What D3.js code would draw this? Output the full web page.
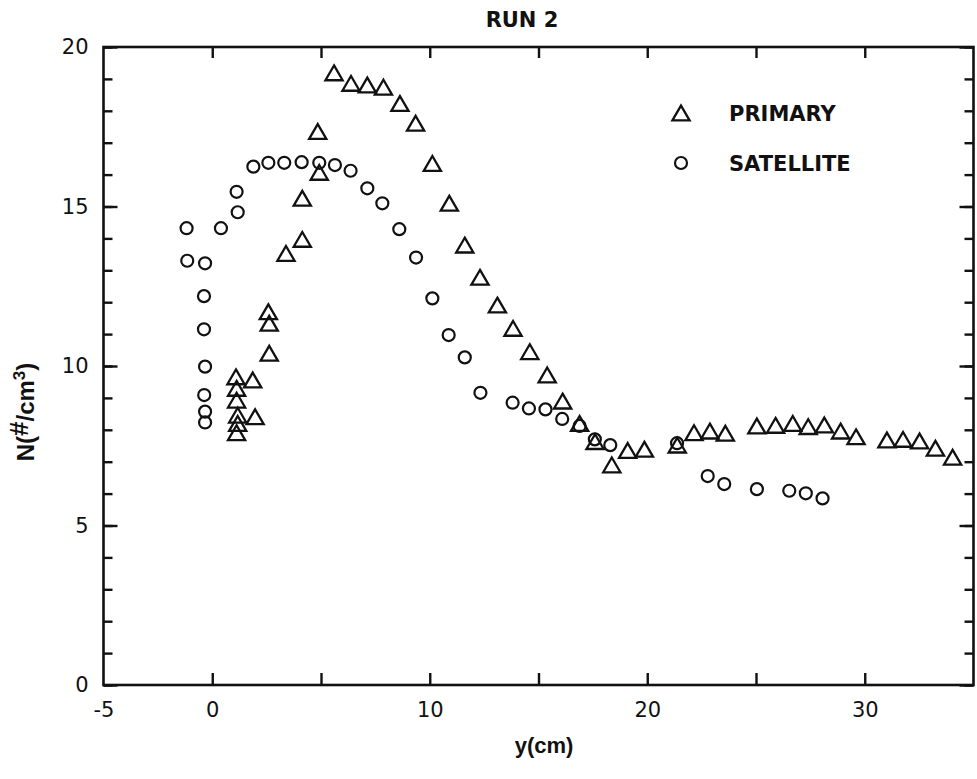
<!DOCTYPE html>
<html>
<head>
<meta charset="utf-8">
<script src="https://cdn.jsdelivr.net/npm/d3@7"></script>
<style>
  html, body { margin: 0; padding: 0; background: #fff; }
  svg { display: block; }
</style>
</head>
<body>
<svg id="chart" width="977" height="779"></svg>
<script>
// Particle number density across the channel, run 2.
// Positions y (cm) and densities N (#/cm^3) for the two droplet populations.
const primaryY = [1.09, 1.12, 1.12, 1.17, 1.17, 1.12, 1.86, 1.97, 2.58, 2.62, 2.62, 3.39, 4.14, 4.14, 4.85, 4.92,
  5.60, 6.38, 7.13, 7.87, 8.63, 9.35, 10.12, 10.90, 11.61, 12.31, 13.11, 13.83, 14.60, 15.40, 16.11, 16.89,
  17.60, 18.37, 19.10, 19.87, 21.38, 22.15, 22.88, 23.59, 25.04, 25.90, 26.69, 27.40, 28.14, 28.89, 29.60,
  31.02, 31.76, 32.52, 33.25, 34.04];
const primaryN = [9.66, 9.30, 8.93, 8.46, 8.20, 7.91, 9.56, 8.41, 11.70, 11.34, 10.40, 13.53, 13.97, 15.26, 17.35, 16.07,
  19.19, 18.86, 18.81, 18.74, 18.23, 17.61, 16.35, 15.10, 13.79, 12.78, 11.91, 11.18, 10.45, 9.72, 8.90, 8.20,
  7.63, 6.90, 7.35, 7.39, 7.52, 7.91, 7.96, 7.89, 8.12, 8.14, 8.20, 8.10, 8.15, 7.96, 7.78,
  7.68, 7.70, 7.65, 7.42, 7.14];

const satelliteY = [-1.18, -1.15, -0.33, -0.38, -0.38, -0.33, -0.37, -0.33, -0.33, 0.40, 1.12, 1.17, 1.89, 2.58,
  3.31, 4.11, 4.92, 5.64, 6.36, 7.13, 7.82, 8.60, 9.37, 10.12, 10.87, 11.61, 12.33, 13.81, 14.56, 15.32,
  16.09, 16.89, 17.59, 18.30, 21.37, 22.78, 23.54, 25.04, 26.53, 27.29, 28.06];
const satelliteN = [14.32, 13.30, 13.22, 12.19, 11.15, 9.98, 9.09, 8.57, 8.23, 14.32, 15.46, 14.82, 16.25, 16.37,
  16.37, 16.39, 16.37, 16.30, 16.12, 15.57, 15.10, 14.29, 13.40, 12.12, 10.97, 10.27, 9.16, 8.85, 8.67, 8.64,
  8.34, 8.12, 7.70, 7.52, 7.58, 6.55, 6.30, 6.14, 6.09, 6.01, 5.85];

const xTickLabels = [-5, 0, 10, 20, 30];
const xTicks = [0, 5, 10, 15, 20, 25, 30];
const yTickLabels = [0, 5, 10, 15, 20];
const yMinorTicks = d3.range(0, 21);
const legendNames = ["PRIMARY", "SATELLITE"];

const ink = "#111";
const svg = d3.select("#chart");
svg.append("rect").attr("width", 977).attr("height", 779).attr("fill", "#fff");

const plotLeft = 103.5, plotRight = 973.5, plotTop = 47, plotBottom = 685;
const x = d3.scaleLinear().domain([-5, 35]).range([plotLeft, plotRight]);
const y = d3.scaleLinear().domain([0, 20]).range([plotBottom, plotTop]);

const tickFont = "'DejaVu Sans', sans-serif";
const boldFont = "'DejaVu Sans', sans-serif";
const plainNumber = d => String(d);   // keeps a hyphen for negative values

function styleAxis(g) {
  g.select(".domain").remove();
  g.selectAll(".tick line").attr("stroke", ink).attr("stroke-width", 2.4);
  g.selectAll(".tick text").attr("fill", ink).attr("font-family", tickFont).attr("font-size", 21);
}

// Left axis: minor ticks every unit, major ticks with labels every 5
svg.append("g").attr("transform", `translate(${plotLeft},0)`)
  .call(d3.axisLeft(y).tickValues(yMinorTicks).tickSize(-9).tickFormat(""))
  .call(styleAxis);
svg.append("g").attr("transform", `translate(${plotLeft},0)`)
  .call(d3.axisLeft(y).tickValues(yTickLabels).tickSize(-14).tickPadding(15).tickFormat(plainNumber))
  .call(styleAxis);

// Right axis: inward ticks only
svg.append("g").attr("transform", `translate(${plotRight},0)`)
  .call(d3.axisRight(y).tickValues(yMinorTicks).tickSize(-9).tickFormat(""))
  .call(styleAxis);
svg.append("g").attr("transform", `translate(${plotRight},0)`)
  .call(d3.axisRight(y).tickValues(yTickLabels).tickSize(-14).tickFormat(""))
  .call(styleAxis);

// Bottom axis: inward ticks every 5, labels at selected values
svg.append("g").attr("transform", `translate(0,${plotBottom})`)
  .call(d3.axisBottom(x).tickValues(xTicks).tickSize(-12).tickFormat(""))
  .call(styleAxis);
svg.append("g").attr("transform", `translate(0,${plotBottom})`)
  .call(d3.axisBottom(x).tickValues(xTickLabels).tickSize(0).tickPadding(17).tickFormat(plainNumber))
  .call(styleAxis);

// Top axis: inward ticks
svg.append("g").attr("transform", `translate(0,${plotTop})`)
  .call(d3.axisTop(x).tickValues(xTicks).tickSize(-11).tickFormat(""))
  .call(styleAxis);

// Frame
svg.append("rect")
  .attr("x", plotLeft).attr("y", plotTop)
  .attr("width", plotRight - plotLeft).attr("height", plotBottom - plotTop)
  .attr("fill", "none").attr("stroke", ink).attr("stroke-width", 2.6);

// Markers
const triPath = "M0,-7.4L8.6,7.4L-8.6,7.4Z";
const circleR = 6;
const primary = primaryY.map((v, i) => ({ y: v, n: primaryN[i] }));
const satellite = satelliteY.map((v, i) => ({ y: v, n: satelliteN[i] }));

svg.append("g").selectAll("circle").data(satellite).join("circle")
  .attr("cx", d => x(d.y)).attr("cy", d => y(d.n)).attr("r", circleR)
  .attr("fill", "none").attr("stroke", ink).attr("stroke-width", 2.2);

svg.append("g").selectAll("path").data(primary).join("path")
  .attr("d", triPath)
  .attr("transform", d => `translate(${x(d.y)},${y(d.n)})`)
  .attr("fill", "none").attr("stroke", ink).attr("stroke-width", 2.3)
  .attr("stroke-linejoin", "miter");

// Legend
const legend = svg.append("g");
legend.append("path").attr("d", triPath)
  .attr("transform", "translate(681,113)")
  .attr("fill", "none").attr("stroke", ink).attr("stroke-width", 2.3);
legend.append("circle").attr("cx", 681).attr("cy", 163).attr("r", circleR)
  .attr("fill", "none").attr("stroke", ink).attr("stroke-width", 2.2);
legend.selectAll("text").data(legendNames).join("text")
  .attr("x", 729).attr("y", (d, i) => 121 + i * 50)
  .attr("font-family", boldFont).attr("font-weight", "bold").attr("font-size", 21)
  .attr("fill", ink).text(d => d);

// Title
svg.append("text").attr("x", 522).attr("y", 27).attr("text-anchor", "middle")
  .attr("font-family", boldFont).attr("font-weight", "bold").attr("font-size", 21)
  .attr("fill", ink).text("RUN 2");

// Axis titles
svg.append("text").attr("x", 544).attr("y", 753).attr("text-anchor", "middle")
  .attr("font-family", "'Liberation Sans', Arial, sans-serif").attr("font-weight", "bold").attr("font-size", 22)
  .attr("fill", ink).text("y(cm)");

const yTitle = svg.append("text")
  .attr("transform", "translate(34,412) rotate(-90)")
  .attr("text-anchor", "middle")
  .attr("font-family", "'Liberation Sans', Arial, sans-serif").attr("font-weight", "bold").attr("font-size", 24)
  .attr("fill", ink);
yTitle.append("tspan").text("N(");
yTitle.append("tspan").attr("dy", -6).attr("font-size", 26).text("#");
yTitle.append("tspan").attr("dy", 6).text("/cm");
yTitle.append("tspan").attr("dy", -9).attr("font-size", 17).text("3");
yTitle.append("tspan").attr("dy", 9).text(")");
</script>
</body>
</html>
